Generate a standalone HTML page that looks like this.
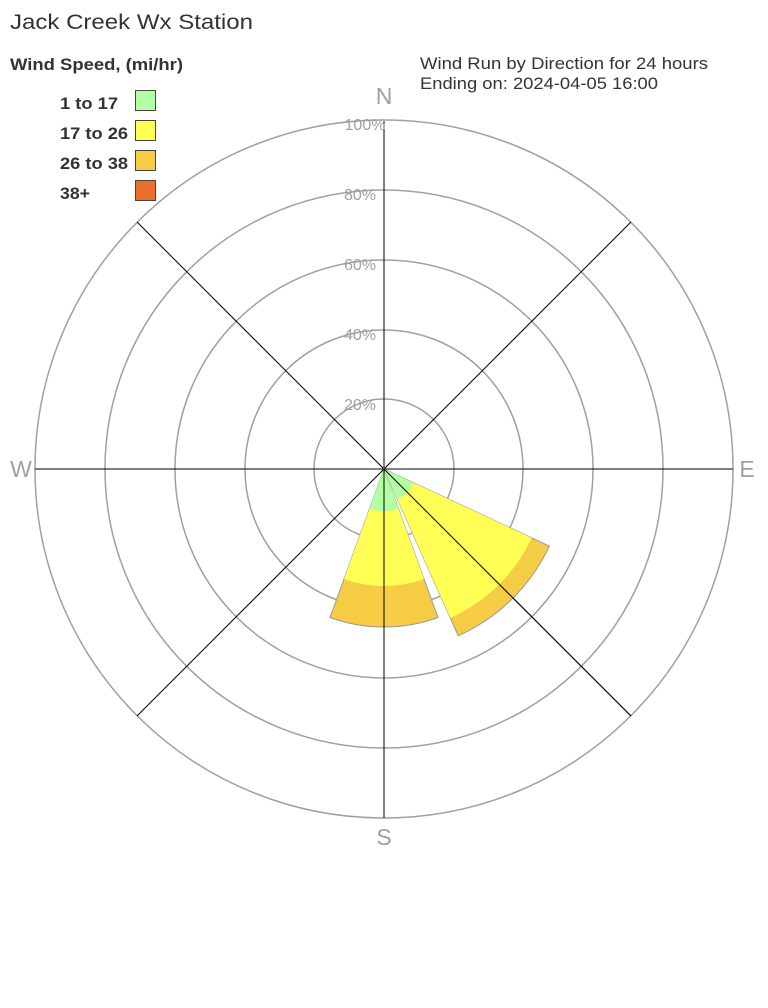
<!DOCTYPE html>
<html><head><meta charset="utf-8"><style>
html,body{margin:0;padding:0;background:#fff;width:768px;height:1008px;overflow:hidden}
svg{display:block}
text{font-family:"Liberation Sans",Arial,sans-serif}
</style></head><body>
<svg width="768" height="1008" viewBox="0 0 768 1008">
<text x="10" y="29" font-size="21" fill="#333" textLength="243" lengthAdjust="spacingAndGlyphs">Jack Creek Wx Station</text>
<text x="10" y="70" font-size="17" font-weight="bold" fill="#333" textLength="173" lengthAdjust="spacingAndGlyphs">Wind Speed, (mi/hr)</text>
<g font-size="17" font-weight="bold" fill="#333">
<text x="60" y="109" textLength="58" lengthAdjust="spacingAndGlyphs">1 to 17</text>
<text x="60" y="139" textLength="68" lengthAdjust="spacingAndGlyphs">17 to 26</text>
<text x="60" y="169" textLength="68" lengthAdjust="spacingAndGlyphs">26 to 38</text>
<text x="60" y="199" textLength="30" lengthAdjust="spacingAndGlyphs">38+</text>
</g>
<rect x="135.5" y="90.5" width="20" height="20" fill="#b3ffa3" stroke="#444"/>
<rect x="135.5" y="120.5" width="20" height="20" fill="#ffff55" stroke="#444"/>
<rect x="135.5" y="150.5" width="20" height="20" fill="#f7cc45" stroke="#444"/>
<rect x="135.5" y="180.5" width="20" height="20" fill="#ec6f2d" stroke="#444"/>
<text x="420" y="69" font-size="17" fill="#333" textLength="288" lengthAdjust="spacingAndGlyphs">Wind Run by Direction for 24 hours</text>
<text x="420" y="89" font-size="17" fill="#333" textLength="238" lengthAdjust="spacingAndGlyphs">Ending on: 2024-04-05 16:00</text>

<g fill="none" stroke="#a0a0a0" stroke-width="1.5">
<circle cx="384" cy="469" r="349"/>
<circle cx="384" cy="469" r="279"/>
<circle cx="384" cy="469" r="209"/>
<circle cx="384" cy="469" r="139"/>
<circle cx="384" cy="469" r="70"/>
</g>
<g stroke="#000" stroke-width="1">
<line x1="35" y1="469" x2="733" y2="469"/>
<line x1="384" y1="121" x2="384" y2="818"/>
<line x1="137" y1="222" x2="631" y2="716"/>
<line x1="631" y1="222" x2="137" y2="716"/>
</g>

<g stroke="#999" stroke-width="1">
<path d="M384,469 L330,617.5 A158,158 0 0 0 438,617.5 Z" fill="#f7cc45"/>
<path d="M384,469 L344,579 A117,117 0 0 0 424,579 Z" fill="#ffff55" stroke="none"/>
<path d="M384,469 L369.6,508.5 A42,42 0 0 0 398.4,508.5 Z" fill="#b3ffa3" stroke="none"/>
<path d="M384,469 L549.4,546.1 A182.5,182.5 0 0 1 458.2,635.7 Z" fill="#f7cc45"/>
<path d="M384,469 L531.7,537.9 A163,163 0 0 1 450.3,617.9 Z" fill="#ffff55" stroke="none"/>
<path d="M384,469 L413.9,483 A33,33 0 0 1 397.4,499.1 Z" fill="#b3ffa3" stroke="none"/>
</g>
<g stroke="#000" stroke-width="1">
<line x1="384" y1="469" x2="384" y2="640"/>
<line x1="384" y1="469" x2="631" y2="716"/>
</g>

<g font-size="16" fill="#a0a0a0" text-anchor="middle">
<text x="365" y="130">100%</text>
<text x="360" y="200">80%</text>
<text x="360" y="270">60%</text>
<text x="360" y="340">40%</text>
<text x="360" y="410">20%</text>
</g>
<g font-size="23" fill="#a0a0a0" text-anchor="middle">
<text x="384" y="104">N</text>
<text x="384" y="845">S</text>
<text x="21" y="477">W</text>
<text x="747" y="477">E</text>
</g>
</svg>
</body></html>
